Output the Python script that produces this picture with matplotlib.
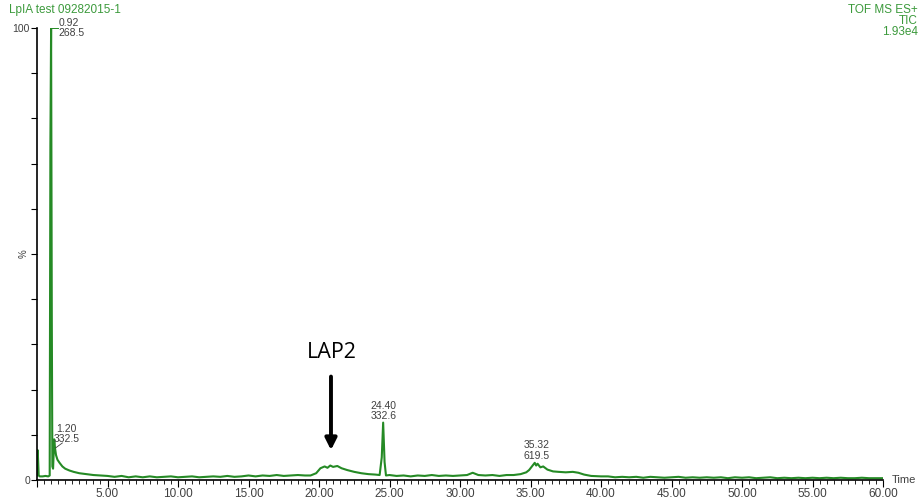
import matplotlib
matplotlib.use("Agg")
import matplotlib.pyplot as plt
import numpy as np

plt.rcParams["font.family"] = ["Liberation Sans", "DejaVu Sans"]

# TIC trace (time in min, relative intensity %)
time_early = [0.00, 0.05, 0.12, 0.20, 0.40, 0.60, 0.80, 0.90, 0.95, 1.00, 1.05, 1.09,
              1.14, 1.22, 1.28, 1.35, 1.45, 1.60, 1.80, 2.00, 2.30, 2.60, 3.00, 3.50,
              4.00, 4.50]
int_early = [1.0, 6.6, 1.0, 0.8, 0.8, 0.9, 0.8, 1.0, 74.0, 100.0, 35.0, 3.0,
             2.5, 9.0, 7.0, 5.5, 4.5, 3.8, 3.0, 2.5, 2.1, 1.8, 1.5, 1.3,
             1.1, 1.0]

time_base1 = [5.0, 5.5, 6.0, 6.5, 7.0, 7.5, 8.0, 8.5, 9.0, 9.5, 10.0, 10.5, 11.0,
              11.5, 12.0, 12.5, 13.0, 13.5, 14.0, 14.5, 15.0, 15.5, 16.0, 16.5,
              17.0, 17.5, 18.0, 18.5, 19.0]
int_base1 = [0.9, 0.7, 0.9, 0.6, 0.8, 0.6, 0.8, 0.6, 0.7, 0.8, 0.6, 0.7, 0.8,
             0.6, 0.7, 0.8, 0.7, 0.9, 0.7, 0.8, 1.0, 0.8, 1.0, 0.9, 1.1,
             0.9, 1.0, 1.1, 1.0]

# LAP2 hump and the 24.40 spike
time_lap2 = [19.4, 19.8, 20.1, 20.4, 20.6, 20.8, 21.0, 21.3, 21.6, 22.0, 22.5,
             23.0, 23.5, 24.0, 24.3, 24.45, 24.55, 24.65, 24.75]
int_lap2 = [1.0, 1.5, 2.6, 3.0, 2.7, 3.2, 2.9, 3.1, 2.6, 2.2, 1.8,
            1.5, 1.3, 1.2, 1.1, 5.0, 12.7, 4.0, 1.0]

time_mid = [25.0, 25.5, 26.0, 26.5, 27.0, 27.5, 28.0, 28.5, 29.0, 29.5, 30.0,
            30.5, 30.9, 31.3, 31.8, 32.3, 32.8, 33.3, 33.8]
int_mid = [1.1, 0.9, 1.0, 0.8, 1.0, 0.9, 1.1, 0.9, 1.0, 0.9, 1.0,
           1.1, 1.6, 1.1, 1.0, 1.1, 0.9, 1.1, 1.1]

# 35.32 hump with its shoulder
time_late = [34.3, 34.7, 34.9, 35.1, 35.3, 35.4, 35.5, 35.7, 35.9, 36.2, 36.6,
             37.0, 37.5, 38.0, 38.4, 38.8, 39.3, 40.0]
int_late = [1.3, 1.7, 2.2, 3.0, 3.8, 3.2, 3.6, 2.8, 3.0, 2.3, 1.9,
            1.8, 1.7, 1.8, 1.6, 1.2, 0.9, 0.8]

time_tail = [40.5, 41.0, 41.5, 42.0, 42.5, 43.0, 43.5, 44.0, 44.5, 45.0, 45.5,
             46.0, 46.5, 47.0, 47.5, 48.0, 48.5, 49.0, 49.5, 50.0, 50.5, 51.0,
             51.5, 52.0, 52.5, 53.0, 53.5, 54.0, 54.5, 55.0, 55.5, 56.0, 56.5,
             57.0, 57.5, 58.0, 58.5, 59.0, 59.5, 60.0]
int_tail = [0.8, 0.6, 0.7, 0.6, 0.7, 0.5, 0.7, 0.6, 0.5, 0.6, 0.7,
            0.5, 0.6, 0.5, 0.6, 0.5, 0.6, 0.4, 0.6, 0.5, 0.6, 0.4,
            0.5, 0.6, 0.4, 0.5, 0.4, 0.5, 0.4, 0.5, 0.4, 0.5, 0.4,
            0.5, 0.4, 0.4, 0.5, 0.4, 0.4, 0.4]

time = time_early + time_base1 + time_lap2 + time_mid + time_late + time_tail
intensity = int_early + int_base1 + int_lap2 + int_mid + int_late + int_tail

# labelled peaks
peak_rt = ["0.92", "1.20", "24.40", "35.32"]
peak_mz = ["268.5", "332.5", "332.6", "619.5"]

line_green = "#258a25"
text_green = "#3c9a3c"
grey = "#404040"

fig = plt.figure(figsize=(9.18, 5.01), dpi=100)
ax = fig.add_axes([37 / 918, 21 / 501, 846 / 918, 452 / 501])

ax.plot(time, intensity, color=line_green, lw=1.5)

ax.set_xlim(0, 60)
ax.set_ylim(0, 100)
for s in ["top", "right"]:
    ax.spines[s].set_visible(False)
ax.spines["left"].set_linewidth(1.2)
ax.spines["bottom"].set_linewidth(1.2)

ax.set_xticks(np.arange(0, 61, 5))
ax.set_xticklabels([""] + [f"{v:.2f}" for v in np.arange(5, 61, 5)])
ax.set_xticks(np.arange(0, 60.01, 0.5), minor=True)
ax.tick_params(axis="x", which="major", length=5, width=0.8, labelsize=8.5,
               labelcolor=grey, pad=1)
ax.tick_params(axis="x", which="minor", length=3, width=0.6)

ax.set_yticks(np.arange(0, 101, 10))
ax.set_yticklabels(["0"] + [""] * 9 + ["100"])
ax.tick_params(axis="y", length=4, width=0.8, labelsize=7.5, labelcolor=grey, pad=1)
ax.text(-0.6, 50, "%", rotation=90, fontsize=7, color=grey, ha="right", va="center")

ax.text(60.6, 0, "Time", fontsize=8, color=grey, ha="left", va="center", clip_on=False)

# peak annotations
ax.plot([1.05, 1.5], [100, 100], color=line_green, lw=0.7, clip_on=False)
ax.text(1.55, 100, f"{peak_rt[0]}\n{peak_mz[0]}", fontsize=7.5, color=grey,
        ha="left", va="center", linespacing=1.05, clip_on=False)
ax.plot([1.32, 1.8], [7.1, 8.2], color=grey, lw=0.6)
ax.text(2.1, 10.2, f"{peak_rt[1]}\n{peak_mz[1]}", fontsize=7.5, color=grey,
        ha="center", va="center", linespacing=1.05)
ax.text(24.6, 15.2, f"{peak_rt[2]}\n{peak_mz[2]}", fontsize=7.5, color=grey,
        ha="center", va="center", linespacing=1.05)
ax.text(35.43, 6.5, f"{peak_rt[3]}\n{peak_mz[3]}", fontsize=7.5, color=grey,
        ha="center", va="center", linespacing=1.05)

# LAP2 callout
ax.text(20.9, 28.1, "LAP2", fontsize=15.5, color="k", ha="center", va="center",
        family=["Open Sans", "DejaVu Sans"])
ax.annotate("", xy=(20.85, 6.0), xytext=(20.85, 23.5),
            arrowprops=dict(arrowstyle="-|>", lw=2.8, color="k", mutation_scale=17))

# header texts
fig.text(9 / 918, 1 - 10 / 501, "LpIA test 09282015-1", fontsize=8.5, color=text_green,
         ha="left", va="center")
fig.text(918 / 918, 1 - 10 / 501, "TOF MS ES+", fontsize=8.5, color=text_green,
         ha="right", va="center")
fig.text(918 / 918, 1 - 21 / 501, "TIC", fontsize=8.5, color=text_green,
         ha="right", va="center")
fig.text(918 / 918, 1 - 32 / 501, "1.93e4", fontsize=8.5, color=text_green,
         ha="right", va="center")

fig.savefig("out.png", dpi=100)
